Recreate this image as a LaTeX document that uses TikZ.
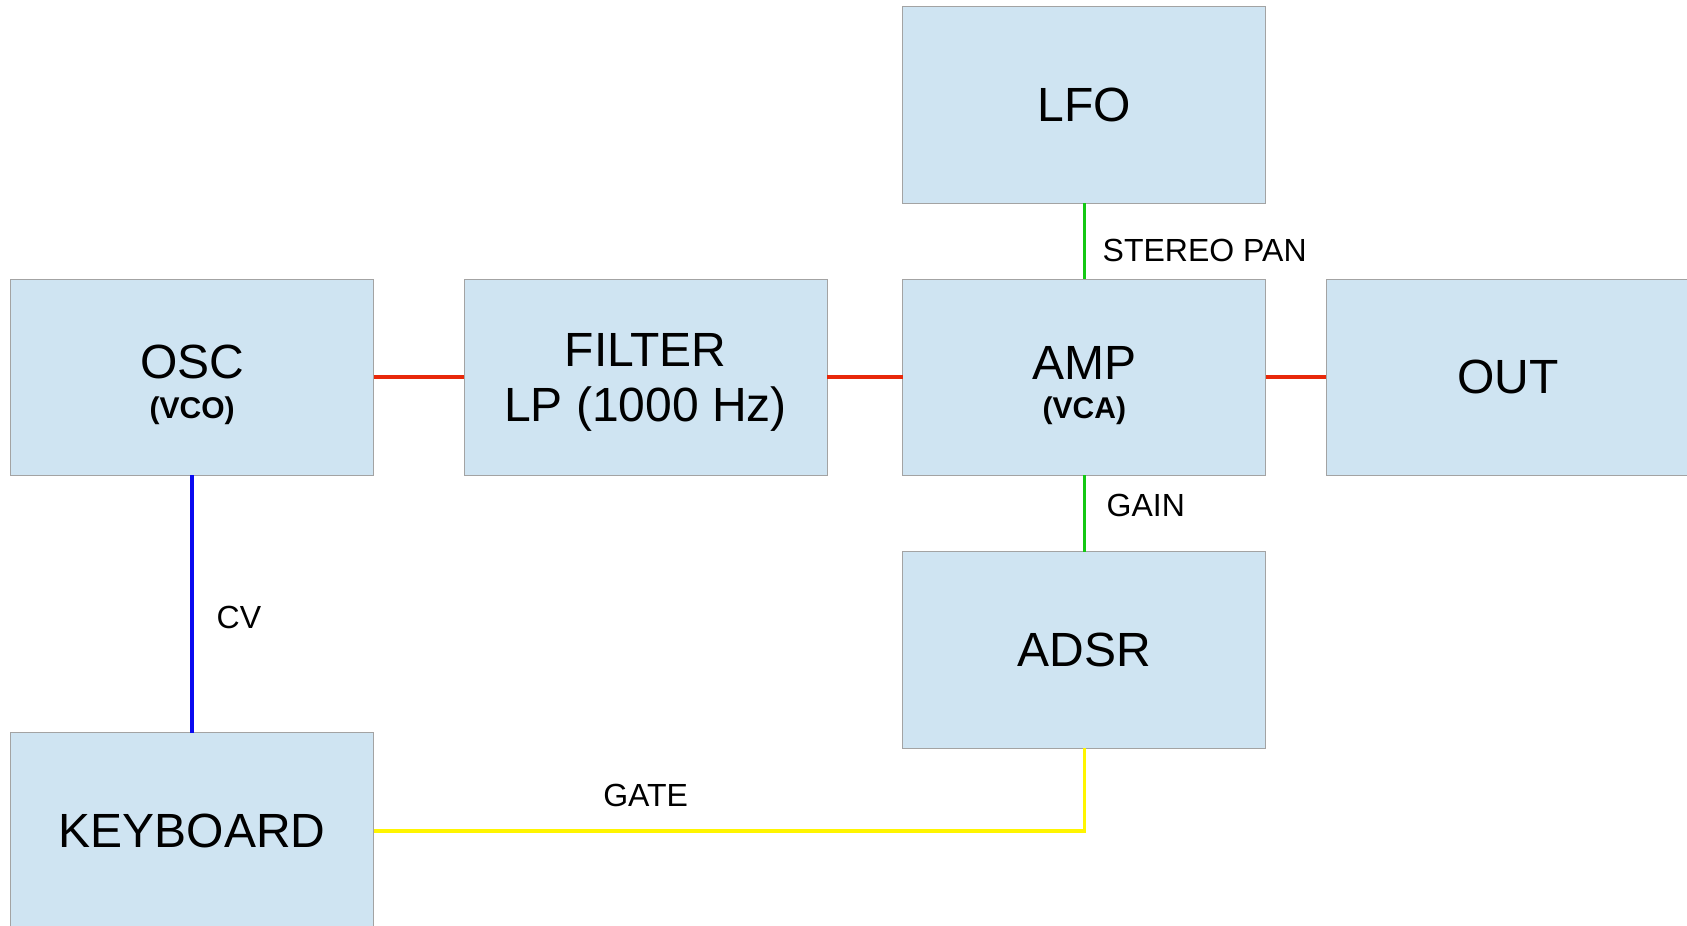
\documentclass[tikz,border=0pt]{standalone}
\usepackage{fontspec}
\setmainfont{Liberation Sans}
\definecolor{boxfill}{RGB}{207,228,242}
\definecolor{boxline}{RGB}{163,163,163}
\definecolor{wred}{RGB}{232,40,10}
\definecolor{wblue}{RGB}{10,10,240}
\definecolor{wgreen}{RGB}{20,200,20}
\definecolor{wyellow}{RGB}{255,245,0}
\begin{document}
\begin{tikzpicture}[x=1pt,y=-1pt,
  box/.style={draw=boxline, fill=boxfill, line width=1pt,
    minimum width=363pt, minimum height=196.3pt, inner sep=0pt, outer sep=0pt,
    align=center, font=\fontsize{48}{54.7}\selectfont},
  twoline/.style={text depth=0pt},
  subtext/.style={font=\fontsize{48}{#1}\selectfont, text depth=0pt, text height=83pt},
  lbl/.style={anchor=base west, inner sep=0pt, outer sep=0pt, font=\fontsize{32}{32}\selectfont},
  wire/.style={line width=3.6pt, line join=miter}]
\useasboundingbox (0,0) rectangle (1687,926);
\clip (0,0) rectangle (1687,926);
\fill[white] (0,0) rectangle (1687,926);

\node[box, subtext=40] (osc) at (192.2,377.15) {OSC\\{\bfseries\fontsize{30}{30}\selectfont(VCO)}};
\node[box] (lfo) at (1084.35,105) {LFO};
\node[box, twoline] (filter) at (645.65,377.15) {FILTER\\LP (1000 Hz)};
\node[box, subtext=39] (amp) at (1084.35,377.15) {AMP\\{\bfseries\fontsize{30}{30}\selectfont(VCA)}};
\node[box] (out) at (1507.8,377.15) {OUT};
\node[box] (adsr) at (1084.35,650) {ADSR};
\node[box] (kbd) at (192.2,831) {KEYBOARD};

\draw[wire, wred] (osc.east) -- (filter.west);
\draw[wire, wred] (filter.east) -- (amp.west);
\draw[wire, wred] (amp.east) -- (out.west);
\draw[wire, wgreen] (lfo.south) -- (amp.north);
\draw[wire, wgreen] (amp.south) -- (adsr.north);
\draw[wire, wblue] (osc.south) -- (kbd.north);
\draw[wire, wyellow] (kbd.east) -| (adsr.south);

\node[lbl] (pan) at (1102.7,261.7) {STEREO PAN};
\node[lbl] (gain) at (1106.7,516) {GAIN};
\node[lbl] (cv) at (216.7,628.3) {CV};
\node[lbl] (gate) at (603.3,806.7) {GATE};
\end{tikzpicture}
\end{document}
